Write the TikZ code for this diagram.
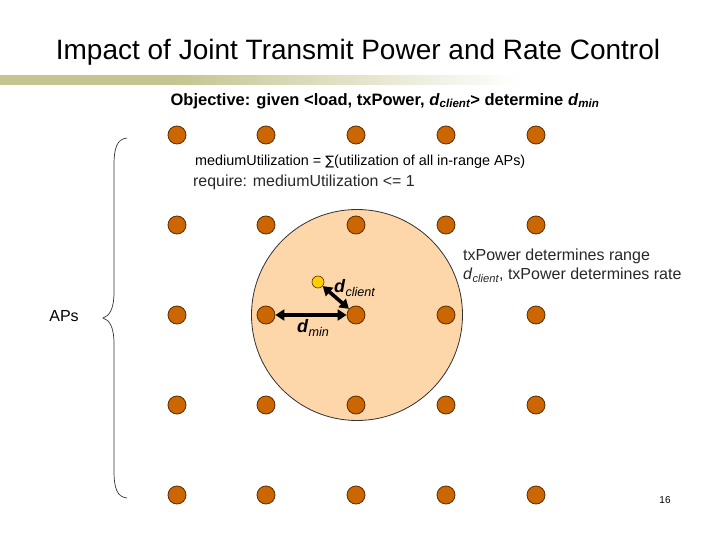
\documentclass[tikz,border=0pt]{standalone}
\usepackage{fontspec}
\setmainfont{Liberation Sans}
\newfontfamily\dejavu{DejaVu Sans}
\usetikzlibrary{arrows.meta}
\definecolor{apfill}{RGB}{204,102,0}
\definecolor{apedge}{RGB}{90,45,0}
\definecolor{rangefill}{RGB}{253,214,170}
\definecolor{clientfill}{RGB}{255,204,0}
\definecolor{barolive}{RGB}{197,197,145}
\definecolor{txtgray}{RGB}{40,40,40}
\pgfdeclarehorizontalshading{titlebar}{100bp}{color(0bp)=(barolive); color(25bp)=(barolive); color(42bp)=(barolive); color(75bp)=(white); color(100bp)=(white)}
\tikzset{
  ap/.style={circle,fill=apfill,draw=apedge,line width=0.8pt,minimum size=18pt,inner sep=0pt},
  client/.style={circle,fill=clientfill,draw=apedge,line width=0.6pt,minimum size=12pt,inner sep=0pt},
  dist/.style={line width=3.6pt,{Triangle[length=9pt,width=11pt]}-{Triangle[length=9pt,width=11pt]}},
  lbl/.style={inner sep=0pt,text=txtgray},
}
\newcommand{\fs}[1]{\fontsize{#1}{#1}\selectfont}
\begin{document}
\begin{tikzpicture}[x=1pt,y=-1pt]
\useasboundingbox (0,0) rectangle (720,540);
\fill[white] (0,0) rectangle (720,540);
% title bar
\shade[shading=titlebar] (0,76) rectangle (520,85);
\node[inner sep=0pt] (title) at (358,52) {\fs{28}Impact of Joint Transmit Power and Rate Control};
\node[inner sep=0pt] (obj) at (385,101) {\fs{16.5}\bfseries Objective: given <load, txPower, \textit{d}\textsubscript{\itshape client}> determine \textit{d}\textsubscript{\itshape min}};
% range circle
\node[circle,fill=rangefill,draw=black!80,line width=0.8pt,minimum size=211pt,inner sep=0pt] (range) at (357,315) {};
% APs grid
\foreach \r/\y in {1/135,2/225,3/315,4/405,5/495}{
  \foreach \c/\x in {1/177,2/266,3/356,4/446,5/536}{
    \node[ap] (ap\r\c) at (\x,\y) {};
  }
}
\node[client] (cl) at (318,282) {};
\draw[dist] (cl) -- (ap33);
\draw[dist] (ap32) -- (ap33);
% texts
\node[lbl,anchor=west,text=black] (med) at (195,162) {\fs{14.4}mediumUtilization = {\dejavu\fs{13}∑}(utilization of all in-range APs)};
\node[lbl,anchor=west] (req) at (193,182) {\fs{15.9}require: mediumUtilization <= 1};
\node[lbl,anchor=west] (tx1) at (463,256) {\fs{16}txPower determines range};
\node[lbl,anchor=west] (tx2) at (463,275) {\fs{16}\textit{d}\textsubscript{\itshape client}, txPower determines rate};
\node[lbl,anchor=west,text=black] (dcl) at (334,288) {\fs{18}\textbf{\textit{d}}\textsubscript{\itshape client}};
\node[lbl,anchor=west,text=black] (dmn) at (297,328) {\fs{18}\textbf{\textit{d}}\textsubscript{\itshape min}};
\node[lbl,text=black] (aps) at (64,316) {\fs{16}APs};
\node[lbl,text=black] (pg) at (665,500) {\fs{10}16};
% brace
\draw[line width=0.7pt,black!80] (127,138) .. controls (117,139) and (114,148) .. (114,165) -- (114,292) .. controls (114,310) and (109,316) .. (103,318) .. controls (109,320) and (114,326) .. (114,344) -- (114,471) .. controls (114,488) and (117,497) .. (127,498);
\end{tikzpicture}
\end{document}
